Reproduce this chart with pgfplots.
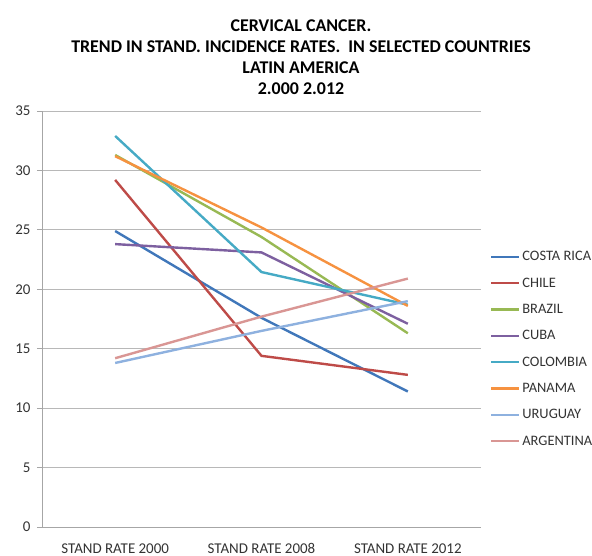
\documentclass[border=0pt]{standalone}
\usepackage{fontspec}
\setmainfont{Carlito}
\usepackage{pgfplots}
\pgfplotsset{compat=1.18}
\definecolor{cr}{HTML}{4077BA}
\definecolor{ch}{HTML}{BE4B48}
\definecolor{br}{HTML}{98B954}
\definecolor{cu}{HTML}{7D60A0}
\definecolor{co}{HTML}{46AAC5}
\definecolor{pa}{HTML}{F69240}
\definecolor{ur}{HTML}{8EB1DF}
\definecolor{ar}{HTML}{D99694}
\begin{document}
\begin{tikzpicture}
\useasboundingbox (-42bp,-29bp) rectangle (550bp,527bp);
\begin{axis}[
  at={(0,0)}, anchor=south west,
  scale only axis, width=439bp, height=416bp,
  xmin=-0.5, xmax=2.5, ymin=0, ymax=35,
  axis lines*=left,
  axis line style={draw=black!35, line width=0.8bp},
  ymajorgrids, grid style={black!28, line width=0.8bp},
  ytick={0,5,...,35},
  xtick={0,1,2},
  xticklabels={STAND RATE 2000, STAND RATE 2008, STAND RATE 2012},
  x tick style={draw=none},
  y tick style={draw=black!35, line width=0.8bp},
  tick align=outside, major tick length=5bp,
  extra x ticks={-0.5,0.5,1.5,2.5}, extra x tick labels={},
  extra x tick style={grid=none, tick style={draw=black!35, line width=0.8bp}},
  ticklabel style={font=\fontsize{15}{17}\selectfont, text=black!80},
  /pgf/number format/assume math mode=true,
  yticklabel style={xshift=-3bp},
  xticklabel style={yshift=-8bp},
  legend style={at={(1.02,0.428)}, anchor=west, draw=none, fill=none,
    font=\fontsize{14.5}{17}\selectfont, text=black!80, row sep=11.5bp,
    inner xsep=0pt},
  legend cell align=left,
  legend image code/.code={\draw[#1] (0bp,0bp) -- (28bp,0bp);},
  every axis plot/.append style={line width=2.4bp},
]
\addplot[cr] coordinates {(0,24.9) (1,17.6) (2,11.4)};
\addlegendentry{COSTA RICA}
\addplot[ch] coordinates {(0,29.2) (1,14.4) (2,12.8)};
\addlegendentry{CHILE}
\addplot[br] coordinates {(0,31.3) (1,24.4) (2,16.3)};
\addlegendentry{BRAZIL}
\addplot[cu] coordinates {(0,23.8) (1,23.1) (2,17.1)};
\addlegendentry{CUBA}
\addplot[co] coordinates {(0,32.9) (1,21.45) (2,18.7)};
\addlegendentry{COLOMBIA}
\addplot[pa] coordinates {(0,31.2) (1,25.2) (2,18.6)};
\addlegendentry{PANAMA}
\addplot[ur] coordinates {(0,13.8) (1,16.5) (2,19.0)};
\addlegendentry{URUGUAY}
\addplot[ar] coordinates {(0,14.2) (1,17.7) (2,20.9)};
\addlegendentry{ARGENTINA}
\end{axis}
\node[align=center, font=\bfseries\fontsize{18}{21}\selectfont] at (259bp,470bp)
  {CERVICAL CANCER.\\ TREND IN STAND. INCIDENCE RATES.\ \ IN SELECTED COUNTRIES\\ LATIN AMERICA\\ 2.000 2.012};
\end{tikzpicture}
\end{document}
